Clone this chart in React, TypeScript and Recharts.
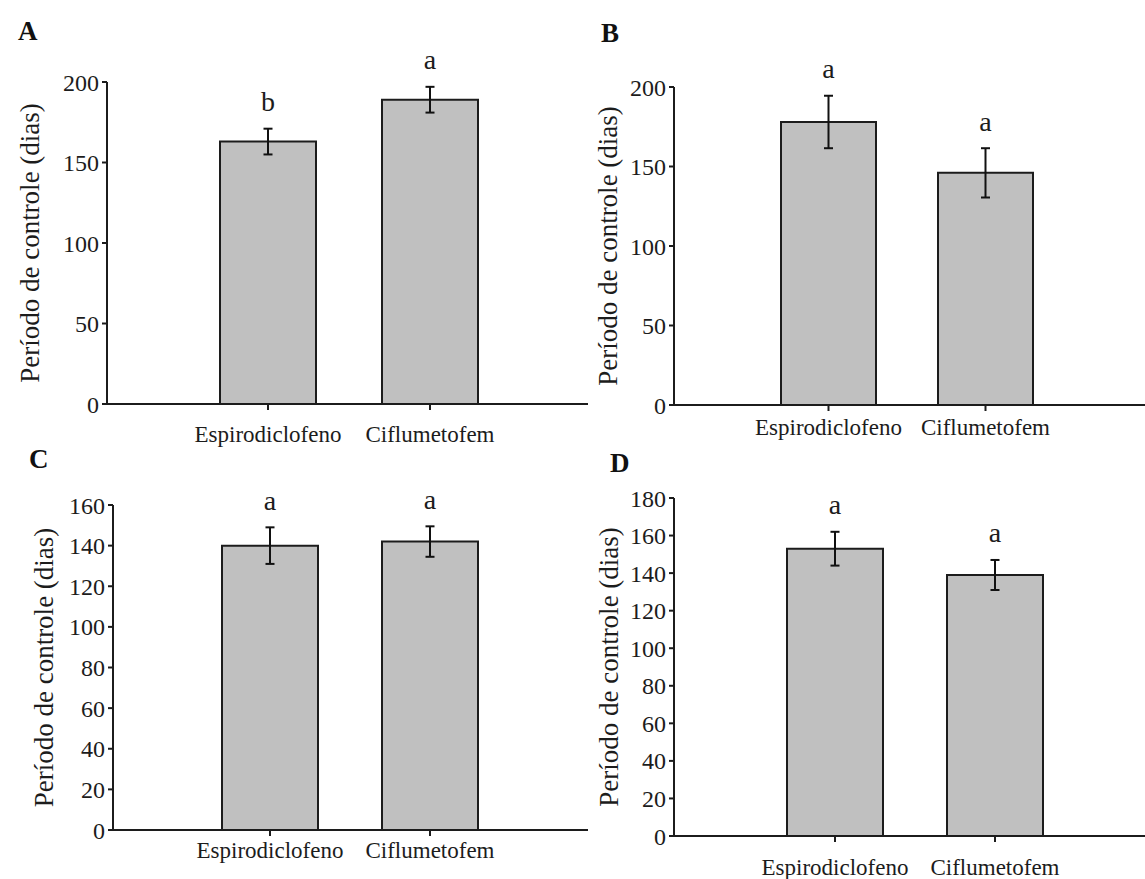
import { BarChart, Bar, XAxis, YAxis, ErrorBar, LabelList } from "recharts";

const categories = ["Espirodiclofeno", "Ciflumetofem"];

const meansA = [163, 189];
const errA = [8, 8];
const sigA = ["b", "a"];
const ticksA = [0, 50, 100, 150, 200];

const meansB = [178, 146];
const errB = [16.5, 15.5];
const sigB = ["a", "a"];
const ticksB = [0, 50, 100, 150, 200];

const meansC = [140, 142];
const errC = [9, 7.5];
const sigC = ["a", "a"];
const ticksC = [0, 20, 40, 60, 80, 100, 120, 140, 160];

const meansD = [153, 139];
const errD = [9, 8];
const sigD = ["a", "a"];
const ticksD = [0, 20, 40, 60, 80, 100, 120, 140, 160, 180];

const yTitle = "Período de controle (dias)";
const FONT = "'Liberation Serif', 'Times New Roman', serif";
const INK = "#1c1c1c";

const toRows = (means, errs, sigs) =>
  categories.map((name, i) => ({ name, mean: means[i], err: errs[i], sig: sigs[i] }));

const SigLabel = (props) => {
  const vb = props.viewBox || props;
  const row = props.rows[props.index];
  if (!row || !vb) return null;
  const h = Math.abs(vb.height);
  const top = Math.min(vb.y, vb.y + vb.height);
  const errPx = (row.err * h) / row.mean;
  const cx = vb.x + vb.width / 2;
  return (
    <text
      x={cx}
      y={top - errPx - 27}
      textAnchor="middle"
      dominantBaseline="central"
      fontSize={28}
      fontFamily={FONT}
      fill={INK}
    >
      {row.sig}
    </text>
  );
};

const YTitle = ({ viewBox, dx }) => {
  const cx = viewBox.x + dx;
  const cy = viewBox.y + viewBox.height / 2;
  return (
    <text
      x={cx}
      y={cy}
      transform={`rotate(-90 ${cx} ${cy})`}
      textAnchor="middle"
      dominantBaseline="central"
      fontSize={27}
      fontFamily={FONT}
      fill={INK}
    >
      {yTitle}
    </text>
  );
};

const Panel = ({ rows, ticks, left, top, width, height, margin, yw, pad, barSize, tickMargin, titleX }) => (
  <div style={{ position: "absolute", left, top }}>
    <BarChart width={width} height={height} data={rows} margin={margin} style={{ overflow: "visible" }}>
      <XAxis
        dataKey="name"
        padding={pad}
        interval={0}
        height={40}
        tickSize={6}
        tickMargin={tickMargin}
        axisLine={{ stroke: INK, strokeWidth: 2 }}
        tickLine={{ stroke: INK, strokeWidth: 2 }}
        tick={{ fontSize: 23, fill: INK, fontFamily: FONT }}
      />
      <YAxis
        type="number"
        width={yw}
        domain={[0, ticks[ticks.length - 1]]}
        ticks={ticks}
        interval={0}
        tickSize={5}
        tickMargin={3}
        axisLine={{ stroke: INK, strokeWidth: 2 }}
        tickLine={{ stroke: INK, strokeWidth: 2 }}
        tick={{ fontSize: 24, fill: INK, fontFamily: FONT }}
        label={{ content: (p) => <YTitle viewBox={p.viewBox} dx={titleX} /> }}
      />
      <Bar dataKey="mean" fill="#c0c0c0" stroke={INK} strokeWidth={2} barSize={barSize} isAnimationActive={false}>
        <ErrorBar dataKey="err" direction="y" width={4.5} stroke="#111" strokeWidth={2} isAnimationActive={false} />
        <LabelList dataKey="sig" content={(p) => <SigLabel {...p} rows={rows} />} />
      </Bar>
    </BarChart>
  </div>
);

export default function App() {
  return (
    <div
      style={{
        position: "absolute",
        left: 0,
        top: 0,
        width: 1145,
        height: 879,
        overflow: "hidden",
        background: "#fff",
        fontFamily: FONT,
      }}
    >
      <Panel
        rows={toRows(meansA, errA, sigA)}
        ticks={ticksA}
        left={0}
        top={0}
        width={590}
        height={450}
        margin={{ top: 82, right: 2, left: 0, bottom: 6 }}
        yw={107}
        pad={{ left: 80, right: 77 }}
        barSize={96}
        tickMargin={16}
        titleX={30}
      />
      <Panel
        rows={toRows(meansB, errB, sigB)}
        ticks={ticksB}
        left={580}
        top={0}
        width={565}
        height={450}
        margin={{ top: 87, right: 0, left: 0, bottom: 5 }}
        yw={94}
        pad={{ left: 76, right: 81 }}
        barSize={95}
        tickMargin={8}
        titleX={28}
      />
      <Panel
        rows={toRows(meansC, errC, sigC)}
        ticks={ticksC}
        left={0}
        top={440}
        width={590}
        height={439}
        margin={{ top: 65, right: 2, left: 0, bottom: 9 }}
        yw={113}
        pad={{ left: 77, right: 78 }}
        barSize={96}
        tickMargin={6}
        titleX={44}
      />
      <Panel
        rows={toRows(meansD, errD, sigD)}
        ticks={ticksD}
        left={580}
        top={440}
        width={565}
        height={445}
        margin={{ top: 58, right: 0, left: 0, bottom: 9 }}
        yw={94}
        pad={{ left: 81, right: 70 }}
        barSize={96}
        tickMargin={17}
        titleX={29}
      />
      <svg width={1145} height={879} style={{ position: "absolute", left: 0, top: 0, pointerEvents: "none" }}>
        <g fontFamily={FONT} fontWeight="bold" fontSize={27} fill="#111">
          <text x={18} y={40}>A</text>
          <text x={601} y={42}>B</text>
          <text x={29} y={468}>C</text>
          <text x={610} y={472}>D</text>
        </g>
      </svg>
    </div>
  );
}
